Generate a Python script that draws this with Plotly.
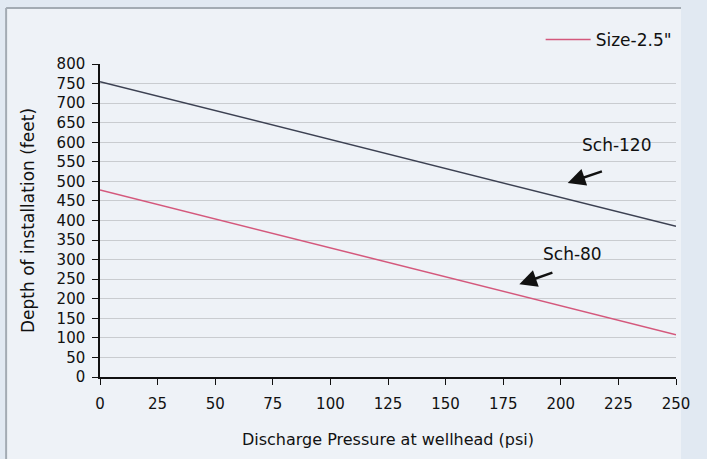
import plotly.graph_objects as go

pressure = [0, 50, 100, 150, 200, 250]
sch120 = [755, 681, 607, 533, 459, 385]
sch80 = [478, 404, 330, 256, 182, 108]
x_ticks = list(range(0, 251, 25))
y_ticks = list(range(0, 801, 50))
legend_name = 'Size-2.5"'

FONT = "DejaVu Sans, Verdana, sans-serif"

fig = go.Figure()
fig.add_trace(go.Scatter(x=pressure, y=sch120, mode="lines",
                         line=dict(color="#3c4152", width=1.5),
                         showlegend=False, name="Sch-120"))
fig.add_trace(go.Scatter(x=pressure, y=sch80, mode="lines",
                         line=dict(color="#d4587c", width=1.5),
                         showlegend=True, name=legend_name))

# background panel with left/top frame
fig.add_shape(type="rect", xref="paper", yref="paper",
              x0=-0.163, x1=1.0087, y0=-0.3, y1=1.179,
              fillcolor="#eef2f7", line=dict(width=0), layer="below")
fig.add_shape(type="line", xref="paper", yref="paper",
              x0=-0.163, x1=-0.163, y0=-0.3, y1=1.179,
              line=dict(color="#a3abb3", width=2), layer="below")
fig.add_shape(type="line", xref="paper", yref="paper",
              x0=-0.163, x1=1.0087, y0=1.179, y1=1.179,
              line=dict(color="#a3abb3", width=2), layer="below")

fig.add_annotation(x=224.4, y=593, text="Sch-120", showarrow=False,
                   font=dict(size=17, color="#111", family=FONT))
fig.add_annotation(x=203, y=496, ax=218.5, ay=527, axref="x", ayref="y",
                   text="", showarrow=True, arrowhead=2, arrowsize=1.4,
                   arrowwidth=2.5, arrowcolor="#111")
fig.add_annotation(x=204.9, y=314, text="Sch-80", showarrow=False,
                   font=dict(size=17, color="#111", family=FONT))
fig.add_annotation(x=182, y=237, ax=197, ay=268, axref="x", ayref="y",
                   text="", showarrow=True, arrowhead=2, arrowsize=1.4,
                   arrowwidth=2.5, arrowcolor="#111")

fig.update_layout(
    width=707, height=459,
    margin=dict(l=100, r=31, t=64, b=82),
    paper_bgcolor="#e1e9f2",
    plot_bgcolor="rgba(0,0,0,0)",
    font=dict(family=FONT, size=15, color="#111"),
    legend=dict(x=0.765, y=1.077, xanchor="left", yanchor="middle",
                bgcolor="rgba(0,0,0,0)", font=dict(size=17),
                itemwidth=45),
    xaxis=dict(range=[0, 250], tickvals=x_ticks, showgrid=False,
               showline=True, linecolor="#111", linewidth=1.5,
               ticks="outside", ticklen=6, tickcolor="#111",
               zeroline=False, ticklabelstandoff=6,
               title=dict(text="Discharge Pressure at wellhead (psi)",
                          font=dict(size=16), standoff=22)),
    yaxis=dict(range=[0, 800], tickvals=y_ticks, showgrid=True,
               gridcolor="#c9ccd0", gridwidth=1,
               showline=True, linecolor="#111", linewidth=1.5,
               ticks="outside", ticklen=6, tickcolor="#111",
               zeroline=False, ticklabelstandoff=4,
               title=dict(text="Depth of installation (feet)",
                          font=dict(size=17), standoff=18)),
)

fig.write_html("out.html", config={"displayModeBar": False},
               post_script="document.body.style.margin='0';")
